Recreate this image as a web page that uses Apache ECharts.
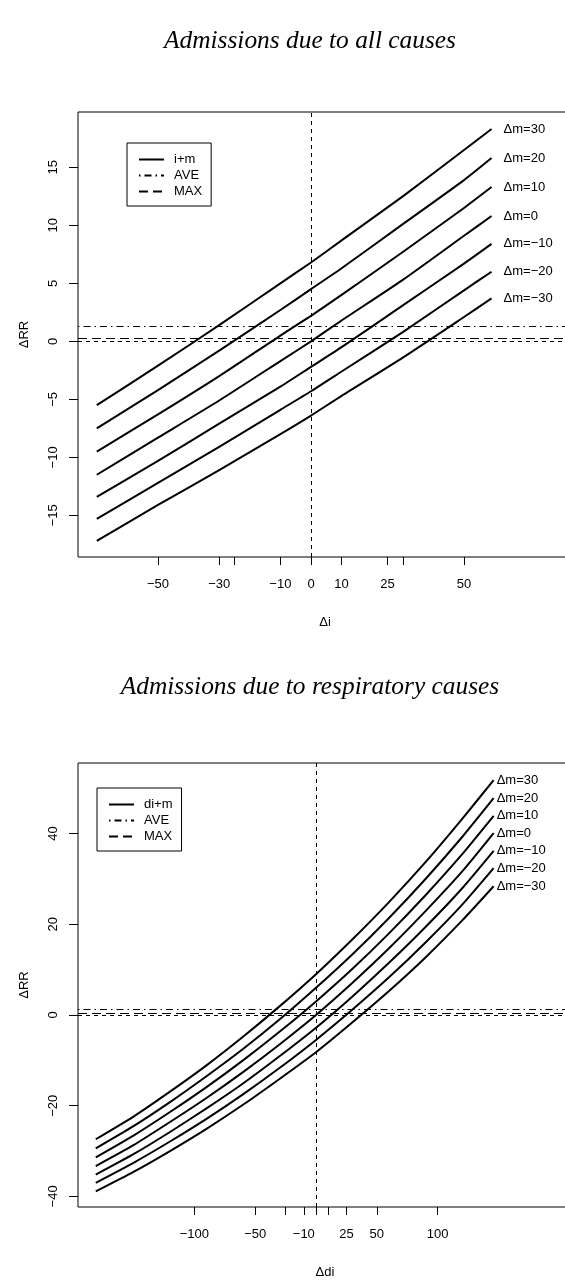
<!DOCTYPE html>
<html><head><meta charset="utf-8">
<script src="https://cdn.jsdelivr.net/npm/echarts@6/dist/echarts.min.js"></script>
<style>html,body{margin:0;padding:0;background:#fff}#c{width:565px;height:1282px}</style>
</head><body><div id="c"></div>
<script>
// ---------- data: panel 1 (all causes) ----------
const mLabels = ['Δm=30','Δm=20','Δm=10','Δm=0','Δm=−10','Δm=−20','Δm=−30'];
const allX = [-70, -50, -30, -10, 0, 10, 30, 50, 59];
const allM30  = [-5.5, -2.1, 1.4, 5.0, 6.8, 8.7, 12.5, 16.5, 18.3];
const allM20  = [-7.5, -4.2, -0.8, 2.7, 4.5, 6.3, 10.1, 13.9, 15.8];
const allM10  = [-9.5, -6.3, -3.0, 0.5, 2.2, 4.0, 7.7, 11.5, 13.3];
const allM0   = [-11.5, -8.3, -5.1, -1.7, 0.0, 1.8, 5.3, 9.1, 10.8];
const allMn10 = [-13.4, -10.3, -7.1, -3.9, -2.2, -0.5, 3.1, 6.7, 8.4];
const allMn20 = [-15.3, -12.2, -9.1, -5.9, -4.3, -2.6, 0.8, 4.4, 6.0];
const allMn30 = [-17.2, -14.1, -11.1, -8.0, -6.4, -4.7, -1.4, 2.1, 3.7];
const allAVE = 1.29;
const allMAX = 0.26;
const allXTicks = [-50, -30, -25, -10, 0, 10, 25, 30, 50];
const allXLabels = [-50, -30, -10, 0, 10, 25, 50];
const allYTicks = [-15, -10, -5, 0, 5, 10, 15];

// ---------- data: panel 2 (respiratory causes) ----------
const respX = [-181, -150, -120, -90, -60, -30, 0, 30, 60, 90, 120, 146];
const respM30  = [-27.4, -22.4, -16.9, -11.1, -4.8, 1.9, 9.0, 16.7, 24.9, 33.7, 43.2, 51.8];
const respM20  = [-29.4, -24.5, -19.2, -13.5, -7.5, -1.0, 6.0, 13.4, 21.4, 30.0, 39.2, 47.8];
const respM10  = [-31.4, -26.6, -21.4, -15.9, -10.0, -3.7, 3.0, 10.2, 18.0, 26.4, 35.4, 43.9];
const respM0   = [-33.3, -28.7, -23.6, -18.3, -12.6, -6.5, 0.0, 7.1, 14.7, 22.9, 31.6, 40.1];
const respMn10 = [-35.2, -30.7, -25.8, -20.6, -15.1, -9.1, -2.8, 4.1, 11.5, 19.4, 27.9, 36.2];
const respMn20 = [-37.0, -32.6, -27.9, -22.9, -17.5, -11.7, -5.5, 1.2, 8.3, 16.0, 24.3, 32.4];
const respMn30 = [-38.9, -34.6, -30.0, -25.1, -19.8, -14.1, -8.2, -1.6, 5.3, 12.7, 20.8, 28.4];
const respAVE = 1.26;
const respMAX = 0.4;
const respXTicks = [-100, -50, -25, -10, 0, 10, 25, 50, 100];
const respXLabels = [-100, -50, -10, 25, 50, 100];
const respYTicks = [-40, -20, 0, 20, 40];

// ---------- styling ----------
const SANS = '"Liberation Sans", Arial, Helvetica, sans-serif';
const SERIF = '"Liberation Serif", "Times New Roman", serif';
const AVE_DASH = [1.5, 4, 7, 4];
const MAX_DASH = [9, 5];
const ZERO_DASH = [4, 4];
const fmt = v => String(v).replace('-', '−');

function curveSeries(name, xs, ys, k, gi, dist) {
  return {
    type: 'line', name: name, xAxisIndex: gi, yAxisIndex: gi,
    data: xs.map((x, i) => [x, ys[i]]),
    smooth: 0.2, symbol: 'none', silent: true,
    lineStyle: { color: '#000', width: 2, join: 'round' },
    itemStyle: { color: '#000' },
    endLabel: { show: true, formatter: () => mLabels[k], distance: dist,
      color: '#000', fontFamily: SANS, fontSize: 13 }
  };
}
function refSeries(name, gi, yVal, dash) {
  return {
    type: 'line', name: name, xAxisIndex: gi, yAxisIndex: gi, data: [],
    symbol: 'none', lineStyle: { color: '#000', width: 1, type: dash },
    itemStyle: { color: '#000' },
    markLine: { silent: true, symbol: ['none', 'none'], label: { show: false },
      lineStyle: { color: '#000', width: 1, type: dash },
      data: [{ yAxis: yVal }] }
  };
}
function zeroSeries(gi) {
  return {
    type: 'line', xAxisIndex: gi, yAxisIndex: gi, data: [], symbol: 'none',
    markLine: { silent: true, symbol: ['none', 'none'], label: { show: false },
      lineStyle: { color: '#000', width: 1, type: ZERO_DASH },
      data: [{ yAxis: 0 }, { xAxis: 0 }] }
  };
}
function xAxis(gi, min, max, ticks, labels, name) {
  return {
    type: 'value', gridIndex: gi, min: min, max: max, name: name,
    nameLocation: 'middle', nameGap: 59,
    nameTextStyle: { fontFamily: SANS, fontSize: 13, color: '#000' },
    axisLine: { show: false, onZero: false }, splitLine: { show: false },
    axisTick: { show: true, length: 8, customValues: ticks, lineStyle: { color: '#000' } },
    axisLabel: { customValues: labels, formatter: fmt, margin: 21,
      fontFamily: SANS, fontSize: 13, color: '#000' }
  };
}
function yAxis(gi, min, max, ticks) {
  return {
    type: 'value', gridIndex: gi, min: min, max: max, name: 'ΔRR',
    nameLocation: 'middle', nameGap: 47, nameRotate: 90,
    nameTextStyle: { fontFamily: SANS, fontSize: 13, color: '#000' },
    axisLine: { show: false, onZero: false }, splitLine: { show: false },
    axisTick: { show: true, length: 9, customValues: ticks, lineStyle: { color: '#000' } },
    axisLabel: { customValues: ticks, formatter: fmt, rotate: 90, margin: 18,
      fontFamily: SANS, fontSize: 13, color: '#000' }
  };
}
function legend(names, left, top) {
  return {
    data: names, orient: 'vertical', left: left, top: top,
    itemWidth: 25, itemHeight: 13, itemGap: 3,
    padding: [10, 9, 8, 11],
    borderColor: '#000', borderWidth: 1, borderRadius: 0, backgroundColor: '#fff',
    selectedMode: false,
    itemStyle: { color: 'rgba(0,0,0,0)', borderWidth: 0, opacity: 0 },
    textStyle: { fontFamily: SANS, fontSize: 13, color: '#000', padding: [0, 0, 0, 5] }
  };
}

const allSets = [allM30, allM20, allM10, allM0, allMn10, allMn20, allMn30];
const respSets = [respM30, respM20, respM10, respM0, respMn10, respMn20, respMn30];

const series = [];
allSets.forEach((ys, k) => series.push(curveSeries('i+m', allX, ys, k, 0, 12)));
series.push(refSeries('AVE', 0, allAVE, AVE_DASH));
series.push(refSeries('MAX', 0, allMAX, MAX_DASH));
series.push(zeroSeries(0));
respSets.forEach((ys, k) => series.push(curveSeries('di+m', respX, ys, k, 1, 3)));
series.push(refSeries('AVE', 1, respAVE, AVE_DASH));
series.push(refSeries('MAX', 1, respMAX, MAX_DASH));
series.push(zeroSeries(1));

const titleStyle = { fontFamily: SERIF, fontStyle: 'italic', fontWeight: 'normal', fontSize: 25.4, color: '#000' };
const chart = echarts.init(document.getElementById('c'), null, { renderer: 'canvas' });
chart.setOption({
  animation: false,
  backgroundColor: '#fff',
  title: [
    { text: 'Admissions due to all causes', left: 305, top: 24, textAlign: 'center', textStyle: titleStyle },
    { text: 'Admissions due to respiratory causes', left: 305, top: 670, textAlign: 'center', textStyle: titleStyle }
  ],
  grid: [
    { left: 78, top: 112, width: 494, height: 445, show: true, borderColor: '#000', borderWidth: 1,
      backgroundColor: 'transparent', outerBoundsMode: 'none', containLabel: false },
    { left: 78, top: 763, width: 494, height: 444, show: true, borderColor: '#000', borderWidth: 1,
      backgroundColor: 'transparent', outerBoundsMode: 'none', containLabel: false }
  ],
  xAxis: [
    xAxis(0, -76.14, 85.29, allXTicks, allXLabels, 'Δi'),
    xAxis(1, -195.6, 210.4, respXTicks, respXLabels, 'Δdi')
  ],
  yAxis: [
    yAxis(0, -18.59, 19.77, allYTicks),
    yAxis(1, -42.34, 55.57, respYTicks)
  ],
  legend: [
    legend(['i+m', 'AVE', 'MAX'], 127, 143),
    legend(['di+m', 'AVE', 'MAX'], 97, 788)
  ],
  series: series
});
</script></body></html>
